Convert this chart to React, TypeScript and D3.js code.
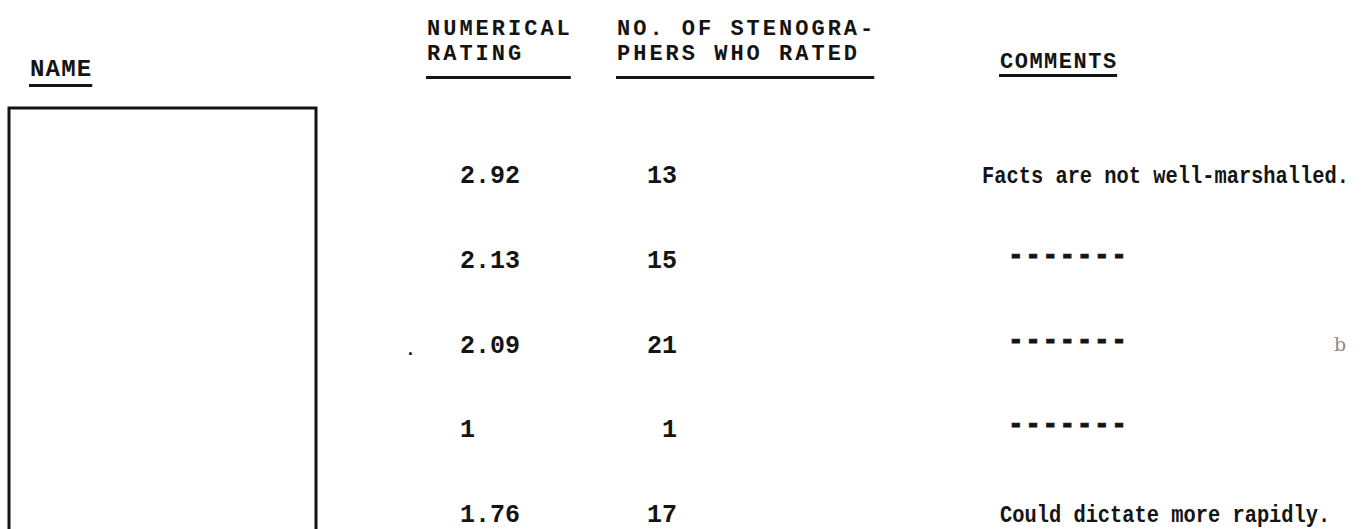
import React, { useRef, useEffect } from 'react';
import * as d3 from 'd3';

// typed table, values
const nameHeader = ['NAME'];
const ratingHeader = ['NUMERICAL', 'RATING'];
const ratersHeader = ['NO. OF STENOGRA-', 'PHERS WHO RATED'];
const commentHeader = ['COMMENTS'];

const ratings = ['2.92', '2.13', '2.09', '1', '1.76'];
const raters = ['13', '15', '21', '1', '17'];
const comments = [
  'Facts are not well-marshalled.',
  '-------',
  '-------',
  '-------',
  'Could dictate more rapidly.',
];

const W = 1367;
const H = 529;
const INK = '#141414';
const FONT = '"Liberation Mono", "Courier New", monospace';

const App = () => {
  const svgRef = useRef(null);

  useEffect(() => {
    const svg = d3.select(svgRef.current);
    svg.selectAll('*').remove();

    const col = d3.scaleOrdinal()
      .domain(['name', 'rating', 'raters', 'comments'])
      .range([30, 427, 617, 1000]);

    const row = d3.scalePoint()
      .domain(d3.range(ratings.length))
      .range([183, 522]);

    const head = svg.append('g')
      .attr('font-family', FONT)
      .attr('font-weight', 'bold')
      .attr('fill', INK);

    // header lines stacked, underlined below the last line
    const headerBlock = (lines, x, y0, size, spacing, lineY) => {
      const t = head.selectAll(null)
        .data(lines)
        .join('text')
        .attr('x', x)
        .attr('y', (d, i) => y0 + i * 25)
        .attr('font-size', size)
        .attr('letter-spacing', spacing)
        .text(d => d);
      const w = d3.max(t.nodes(), n => n.getComputedTextLength()) - spacing;
      head.append('rect')
        .attr('x', x - 1)
        .attr('y', lineY)
        .attr('width', w + 2)
        .attr('height', 3)
        .attr('fill', INK);
    };

    headerBlock(nameHeader, col('name'), 76, 24, 1.2, 84);
    headerBlock(ratingHeader, col('rating'), 35, 22, 3, 76);
    headerBlock(ratersHeader, col('raters'), 35, 22, 3, 76);
    headerBlock(commentHeader, col('comments'), 68, 22, 1.5, 74);

    // empty name box, open at the bottom
    svg.append('path')
      .attr('d', `M9,${H + 10}V108H316V${H + 10}`)
      .attr('fill', 'none')
      .attr('stroke', INK)
      .attr('stroke-width', 3);

    const body = svg.append('g')
      .attr('font-family', FONT)
      .attr('font-weight', 'bold')
      .attr('fill', INK);

    body.selectAll('text.rating')
      .data(ratings)
      .join('text')
      .attr('class', 'rating')
      .attr('x', 460)
      .attr('y', (d, i) => row(i))
      .attr('font-size', 25)
      .text(d => d);

    body.selectAll('text.raters')
      .data(raters)
      .join('text')
      .attr('class', 'raters')
      .attr('x', 677)
      .attr('y', (d, i) => row(i))
      .attr('text-anchor', 'end')
      .attr('font-size', 25)
      .text(d => d);

    const isDash = d => d.startsWith('-');
    body.selectAll('text.comment')
      .data(comments)
      .join('text')
      .attr('class', 'comment')
      .attr('transform', (d, i) => {
        const x = isDash(d) ? 1008 : (d.startsWith('F') ? 982 : 1000);
        const y = row(i) - (isDash(d) ? 4 : 0);
        return `translate(${x},${y}) scale(1,1.2)`;
      })
      .attr('font-size', d => isDash(d) ? 26 : 20.4)
      .attr('letter-spacing', d => isDash(d) ? 1.6 : 0)
      .attr('stroke', d => isDash(d) ? INK : 'none')
      .attr('stroke-width', 0.9)
      .text(d => d);

    // stray marks on the scan
    body.append('text')
      .attr('x', 405)
      .attr('y', row(2) + 2)
      .attr('font-size', 18)
      .text('.');

    svg.append('text')
      .attr('x', 1334)
      .attr('y', row(2) - 2)
      .attr('font-family', '"DejaVu Serif", serif')
      .attr('font-size', 19)
      .attr('fill', '#8a8a8a')
      .text('b');
  }, []);

  return (
    <svg
      ref={svgRef}
      width={W}
      height={H}
      style={{ position: 'absolute', left: 0, top: 0, background: '#fff' }}
    />
  );
};

export default App;
